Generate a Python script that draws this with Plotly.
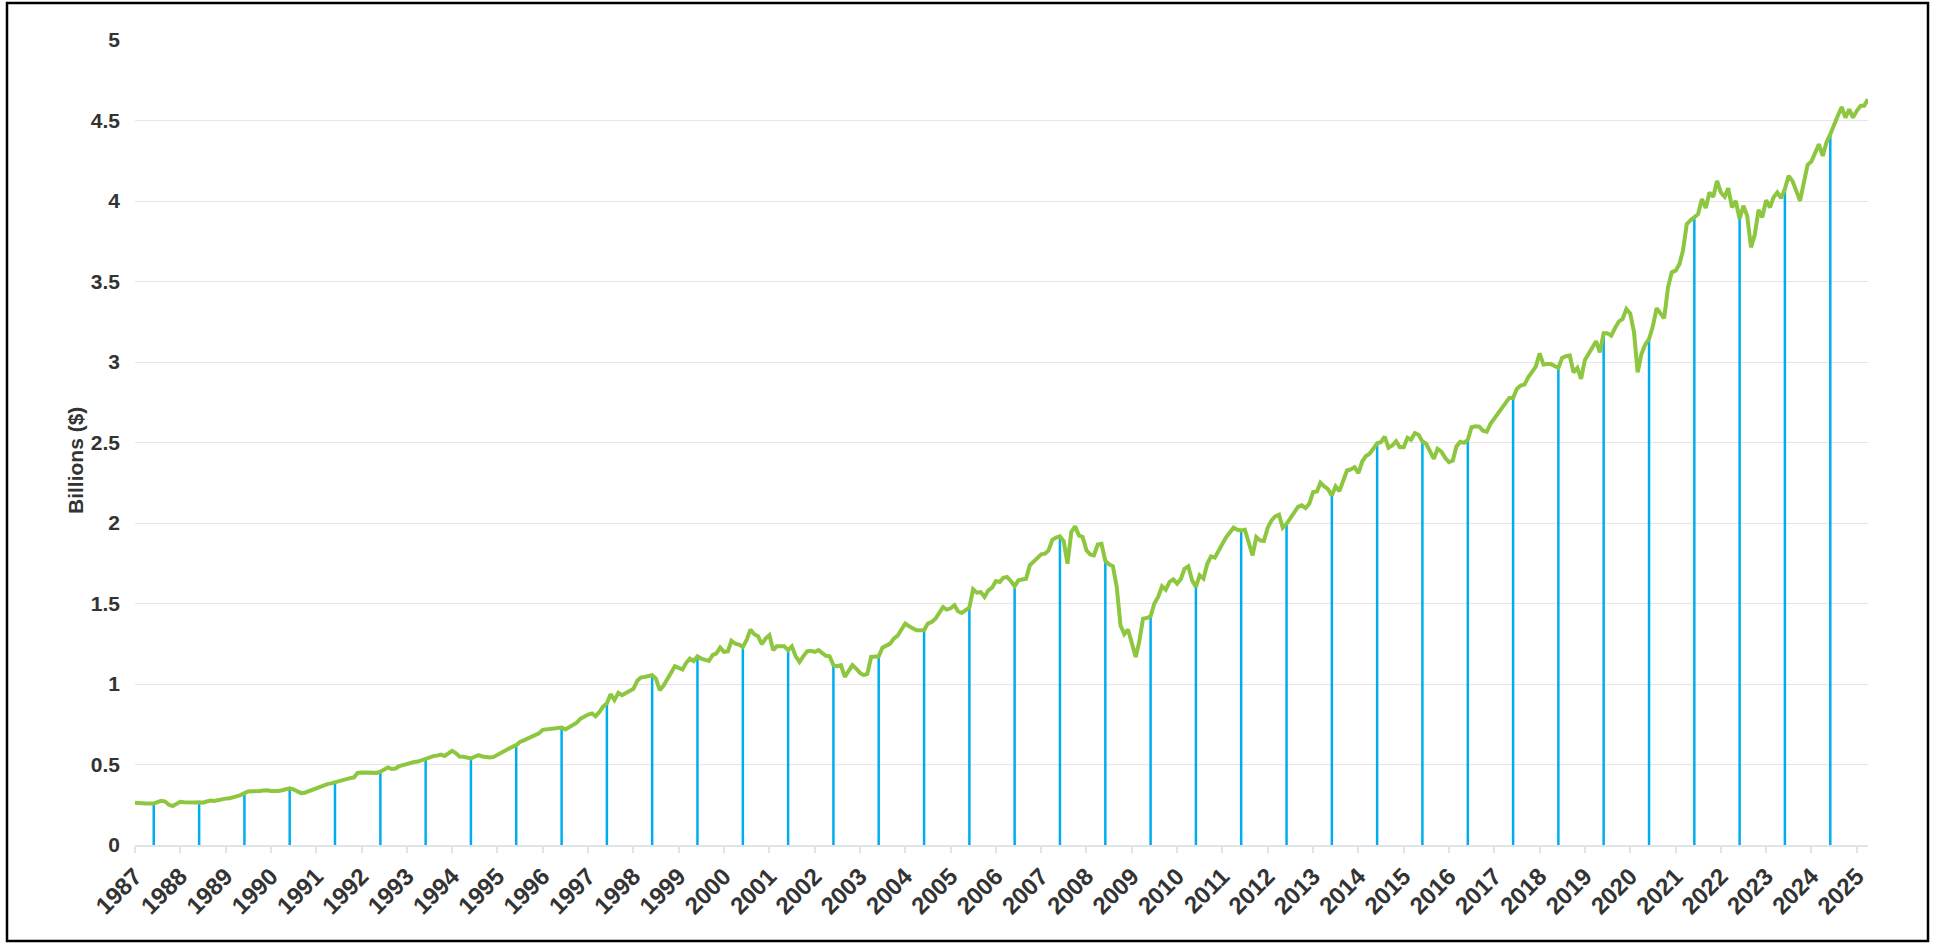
import plotly.graph_objects as go
import pandas as pd

# Monthly values (billions $), Jan 1987 .. Apr 2025
monthly_by_year = {
    1987: [.262, .263, .260, .258, .256, .258, .266, .274, .270, .250, .242, .255],
    1988: [.268, .265, .263, .262, .264, .266, .263, .270, .276, .274, .280, .283],
    1989: [.288, .290, .295, .300, .310, .322, .333, .334, .333, .335, .338, .340],
    1990: [.335, .333, .336, .340, .348, .352, .345, .330, .322, .325, .335, .345],
    1991: [.355, .365, .372, .378, .383, .390, .400, .405, .410, .415, .420, .448],
    1992: [.450, .449, .447, .445, .448, .455, .470, .482, .472, .475, .490, .497],
    1993: [.505, .510, .515, .518, .527, .535, .540, .552, .555, .562, .553, .570],
    1994: [.585, .570, .550, .548, .545, .538, .548, .558, .550, .545, .544, .547],
    1995: [.560, .575, .590, .600, .610, .620, .640, .650, .660, .668, .680, .693],
    1996: [.715, .718, .718, .722, .730, .730, .718, .730, .745, .760, .785, .800],
    1997: [.810, .817, .800, .825, .860, .880, .937, .900, .945, .930, .945, .962],
    1998: [.970, 1.020, 1.040, 1.044, 1.050, 1.055, 1.034, .962, .990, 1.028, 1.070, 1.110],
    1999: [1.100, 1.090, 1.130, 1.158, 1.143, 1.172, 1.158, 1.150, 1.143, 1.179, 1.190, 1.226],
    2000: [1.200, 1.203, 1.268, 1.250, 1.245, 1.230, 1.272, 1.338, 1.309, 1.297, 1.247, 1.282],
    2001: [1.303, 1.210, 1.234, 1.234, 1.234, 1.210, 1.234, 1.172, 1.137, 1.172, 1.203, 1.206],
    2002: [1.199, 1.210, 1.190, 1.175, 1.172, 1.117, 1.110, 1.117, 1.044, 1.080, 1.117, 1.096],
    2003: [1.069, 1.055, 1.062, 1.168, 1.170, 1.172, 1.226, 1.237, 1.251, 1.282, 1.300, 1.338],
    2004: [1.375, 1.359, 1.345, 1.334, 1.334, 1.334, 1.375, 1.385, 1.406, 1.440, 1.478, 1.462],
    2005: [1.470, 1.489, 1.452, 1.441, 1.460, 1.474, 1.588, 1.567, 1.571, 1.541, 1.582, 1.598],
    2006: [1.640, 1.634, 1.660, 1.665, 1.640, 1.607, 1.644, 1.650, 1.654, 1.737, 1.760, 1.785],
    2007: [1.805, 1.809, 1.830, 1.896, 1.910, 1.917, 1.888, 1.747, 1.944, 1.979, 1.923, 1.913],
    2008: [1.830, 1.805, 1.799, 1.867, 1.871, 1.764, 1.743, 1.731, 1.603, 1.365, 1.309, 1.338],
    2009: [1.240, 1.168, 1.261, 1.406, 1.410, 1.421, 1.500, 1.541, 1.607, 1.586, 1.634, 1.650],
    2010: [1.623, 1.654, 1.716, 1.731, 1.644, 1.603, 1.675, 1.654, 1.747, 1.793, 1.785, 1.834],
    2011: [1.871, 1.913, 1.938, 1.971, 1.958, 1.954, 1.958, 1.882, 1.799, 1.913, 1.892, 1.888],
    2012: [1.971, 2.016, 2.041, 2.051, 1.971, 1.995, 2.033, 2.062, 2.100, 2.110, 2.093, 2.120],
    2013: [2.192, 2.196, 2.250, 2.227, 2.210, 2.171, 2.227, 2.198, 2.260, 2.326, 2.333, 2.347],
    2014: [2.310, 2.382, 2.415, 2.430, 2.461, 2.496, 2.502, 2.537, 2.467, 2.481, 2.508, 2.471],
    2015: [2.471, 2.529, 2.517, 2.558, 2.548, 2.506, 2.492, 2.440, 2.399, 2.461, 2.444, 2.405],
    2016: [2.378, 2.388, 2.475, 2.504, 2.498, 2.517, 2.595, 2.601, 2.599, 2.574, 2.568, 2.616],
    2017: [2.650, 2.682, 2.715, 2.750, 2.777, 2.777, 2.833, 2.854, 2.860, 2.905, 2.940, 2.971],
    2018: [3.054, 2.984, 2.988, 2.988, 2.975, 2.963, 3.025, 3.036, 3.040, 2.936, 2.963, 2.895],
    2019: [3.013, 3.050, 3.081, 3.129, 3.060, 3.178, 3.178, 3.164, 3.211, 3.251, 3.267, 3.329],
    2020: [3.302, 3.184, 2.936, 3.050, 3.108, 3.143, 3.220, 3.335, 3.302, 3.271, 3.464, 3.557],
    2021: [3.567, 3.608, 3.691, 3.856, 3.880, 3.898, 3.918, 4.012, 3.956, 4.053, 4.026, 4.125],
    2022: [4.053, 4.026, 4.080, 3.960, 4.001, 3.888, 3.970, 3.908, 3.712, 3.790, 3.945, 3.898],
    2023: [4.005, 3.960, 4.022, 4.053, 4.018, 4.074, 4.156, 4.125, 4.063, 4.001, 4.115, 4.225],
    2024: [4.245, 4.300, 4.353, 4.280, 4.363, 4.415, 4.477, 4.530, 4.584, 4.518, 4.570, 4.518],
    2025: [4.560, 4.591, 4.591, 4.632],
}

# Annual (June) values shown as vertical blue lines
annual_years = list(range(1987, 2025))
annual_values = [.258, .266, .322, .352, .390, .455, .535, .538, .620, .730,
                 .880, 1.055, 1.172, 1.230, 1.210, 1.117, 1.172, 1.334, 1.474, 1.607,
                 1.917, 1.764, 1.421, 1.603, 1.954, 1.995, 2.171, 2.496, 2.506, 2.517,
                 2.777, 2.963, 3.178, 3.143, 3.898, 3.888, 4.074, 4.415]

y_ticks = [0, 0.5, 1, 1.5, 2, 2.5, 3, 3.5, 4, 4.5, 5]
y_tick_text = ["0", "0.5", "1", "1.5", "2", "2.5", "3", "3.5", "4", "4.5", "5"]
y_title = "Billions ($)"

dates, vals = [], []
for yr, arr in monthly_by_year.items():
    for m, v in enumerate(arr):
        dates.append(pd.Timestamp(year=yr, month=m + 1, day=1))
        vals.append(v)

bx, by = [], []
for yr, v in zip(annual_years, annual_values):
    d = pd.Timestamp(year=yr, month=6, day=1)
    bx += [d, d, None]
    by += [0, v, None]

FONT = "Liberation Sans, Arial, Helvetica, sans-serif"
TXT = "#333333"

fig = go.Figure()
fig.add_trace(go.Scatter(x=bx, y=by, mode="lines",
                         line=dict(color="#00aeef", width=2.5),
                         hoverinfo="skip", showlegend=False))
fig.add_trace(go.Scatter(x=dates, y=vals, mode="lines",
                         line=dict(color="#8dc63f", width=4),
                         showlegend=False))

fig.update_layout(
    width=1935, height=944,
    margin=dict(l=135, r=67, t=40, b=99),
    paper_bgcolor="white", plot_bgcolor="white",
    font=dict(family=FONT, color=TXT),
    xaxis=dict(
        type="date",
        range=[dates[0], dates[-1]],
        tick0="1987-01-01", dtick="M12", tickformat="%Y",
        tickangle=-45,
        tickfont=dict(size=24, family=FONT, color=TXT, weight="bold"),
        showgrid=False, zeroline=False,
        showline=True, linecolor="#dfe4ea", linewidth=1.5,
        ticks="outside", ticklen=6, tickcolor="#dfe4ea", tickwidth=1.5,
    ),
    yaxis=dict(
        range=[0, 5],
        tickvals=y_ticks, ticktext=y_tick_text,
        tickfont=dict(size=21, family=FONT, color=TXT, weight="bold"),
        showgrid=True, gridcolor="#e6e6e6", gridwidth=1,
        zeroline=False, showline=False,
        ticklabelstandoff=14,
    ),
)

fig.add_annotation(text=y_title, xref="paper", yref="paper",
                   x=(75 - 135) / 1733, y=(845 - 461) / 805,
                   xanchor="center", yanchor="middle", textangle=-90,
                   showarrow=False,
                   font=dict(size=21, family=FONT, color=TXT, weight="bold"))

# outer frame
fig.add_shape(type="rect", xref="paper", yref="paper",
              x0=(7 - 135) / 1733, x1=(1928 - 135) / 1733,
              y0=(845 - 941) / 805, y1=(845 - 3) / 805,
              line=dict(color="black", width=2.5), fillcolor="rgba(0,0,0,0)",
              layer="above")

fig.write_html("out.html", config={"displayModeBar": False},
               post_script="document.body.style.margin='0';")
